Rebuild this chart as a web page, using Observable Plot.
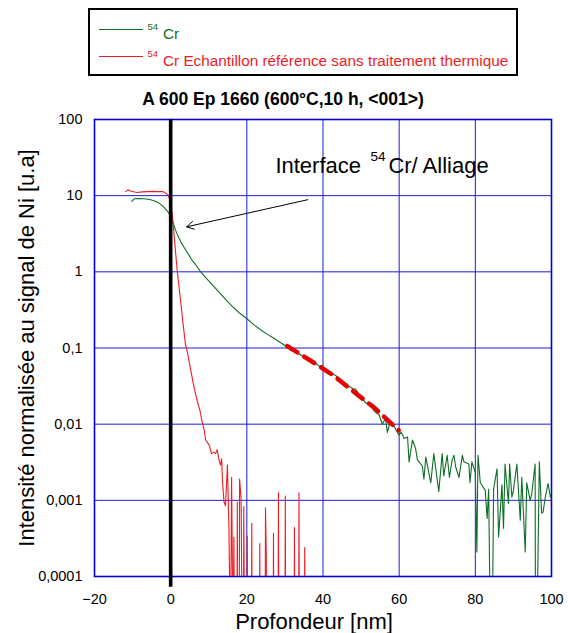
<!DOCTYPE html>
<html><head><meta charset="utf-8">
<script src="https://cdn.jsdelivr.net/npm/d3@7"></script>
<script src="https://cdn.jsdelivr.net/npm/@observablehq/plot@0.6"></script>
<style>
html,body{margin:0;padding:0;background:#fff;overflow:hidden;}
body{font-family:"Liberation Sans",Arial,sans-serif;}
#head{position:relative;width:572px;height:110px;}
#head .a{position:absolute;line-height:1;white-space:nowrap;}
#chart svg{display:block;}
</style></head><body>
<div id="head"></div>
<div id="chart"></div>
<script>
// ---------- data ----------
const isotope = "54";
const seriesNames = ["Cr", "Cr Echantillon référence sans traitement thermique"];
const seriesColors = ["#0d6e26", "#ee1c24"];
const chartTitle = "A 600 Ep 1660 (600°C,10 h, <001>)";
const xLabel = "Profondeur [nm]";
const yLabel = "Intensité normalisée au signal de Ni [u.a]";
const xTicks = [-20, 0, 20, 40, 60, 80, 100];
const yTicks = [0.0001, 0.001, 0.01, 0.1, 1, 10, 100];
const yTickLabels = ["0,0001", "0,001", "0,01", "0,1", "1", "10", "100"];

// 54Cr (annealed) profile
const greenDepth = [-10.2,-9.6,-8.5,-7,-5.5,-4.4,-3.2,-2.2,-1.4,-0.9,-0.3,0,0.6,1.3,2,2.8,3.5,4.5,5.5,6.5,7.9,9,10,11.5,13,14.9,16.5,18,20.1,22,23.5,25.4,27,28.5,30,31.5,33,34.5,36,36.7,38,39.2,39.8,40.4,41.5,42.5,43.2,44,45,46,47,48,48.6,49.5,50.5,51.2,52.2,53,54,54.7,55.6,56.4,56.9,57.7,58.6,59.9,60.5,60.9,61.3,62.2,62.6,63.5,64.3,64.8,66.1,66.5,67,68.3,69.1,70.4,71.3,71.7,72.6,73.2,73.9,74.4,74.8,75.7,76.6,77,78.3,78.6,79.1,80,80.4,80.7,81.3,82.6,83.1,83.5,84,84.4,84.8,85.7,86.1,87,87.4,87.8,88.7,89,89.6,90,90.9,91.8,92.2,93.1,93.5,94.4,94.8,95.7,95.8,96.1,96.8,97.4,97.8,98.3,99.1,99.7,100];
const greenValue = [8.4,9.1,9.2,9.1,8.9,8.6,8.1,7.4,6.7,6.3,5.7,5.4,4.5,3.5,2.9,2.4,2.1,1.75,1.45,1.25,1.0,0.86,0.76,0.63,0.52,0.41,0.34,0.29,0.24,0.2,0.175,0.151,0.135,0.121,0.108,0.098,0.088,0.079,0.071,0.068,0.063,0.057,0.059,0.054,0.05,0.046,0.044,0.041,0.037,0.034,0.031,0.029,0.029,0.024,0.021,0.019,0.018,0.016,0.014,0.0134,0.0099,0.0121,0.0078,0.011,0.0095,0.0072,0.0078,0.0072,0.0065,0.0068,0.0032,0.0062,0.0048,0.0034,0.0028,0.0019,0.0037,0.0017,0.0041,0.0013,0.0041,0.0021,0.0039,0.002,0.0034,0.0039,0.0028,0.002,0.0039,0.0032,0.003,0.0017,0.0032,0.0023,0.00021,0.0039,0.0017,0.00135,0.00058,0.0014,0.00001,0.00001,0.0014,0.0026,0.00033,0.0016,0.00043,0.003,0.00091,0.003,0.0011,0.00135,0.003,0.00055,0.002,0.00021,0.0017,0.001,0.0012,0.003,0.00001,0.00001,0.0032,0.00068,0.0007,0.00105,0.00166,0.0011,0.0012];

// 54Cr reference sample (no heat treatment)
const redDepth = [-11.8,-11.2,-10.5,-9.5,-8.7,-7.5,-6.1,-4.5,-3.5,-2,-1.3,-0.6,-0.3,0.4,0.9,1.75,2.6,3.2,3.9,4.4,5.25,6.1,7,7.7,8.3,8.75,9.2,9.8,10.2,10.7,11.3,11.8,12.2,12.7,13.1,13.4,13.6,14,14.4,14.9,15.3,15.7,16,16.4,16.6,16.8,17.4,17.5,17.6,18,18.1,18.5,18.8,19.1,19.2,19.4,20,20.1,20.3,21.2,21.3,21.4,23.3,23.4,23.5,24.8,24.9,25.1,25.2,26.9,27,27.1,28.2,28.3,28.4,30,30.1,30.2,32.4,32.5,32.6,33.6,33.7,33.8,35.1,35.2,35.3];
const redValue = [11.3,11.9,11.5,11.2,11.0,11.2,11.3,11.4,11.3,11.3,10.8,10.0,9.0,5.8,3.0,1.0,0.42,0.22,0.11,0.088,0.052,0.031,0.020,0.015,0.0105,0.0087,0.0062,0.0056,0.0052,0.0041,0.0043,0.0041,0.0046,0.0034,0.0029,0.0035,0.0018,0.00096,0.00085,0.0029,0.00043,0.00001,0.002,0.00001,0.00033,0.00001,0.00001,0.00095,0.00001,0.00001,0.0019,0.00105,0.00001,0.00001,0.00083,0.00001,0.00001,0.00034,0.00001,0.00001,0.0005,0.00001,0.00001,0.00027,0.00001,0.00001,0.0008,0.0002,0.00001,0.00001,0.00037,0.00001,0.00001,0.00126,0.00001,0.00001,0.00114,0.00001,0.00001,0.00044,0.00001,0.00001,0.00126,0.00001,0.00001,0.00024,0.00001];

// exponential fit over the diffusion tail (thick red dashes)
const fitDepth = [30.6, 37.6, 42.9, 48.1, 53.5, 59.9];
const fitValue = [0.106, 0.064, 0.043, 0.0266, 0.0164, 0.0083];

// interface marker at depth 0
const interfaceDepth = [0];
const interfaceTop = [100];
const interfaceBottom = [0.000072];

// annotation
const annotationText = ["Interface", "54", "Cr/ Alliage"];
const annotationAt = [27.5, 19.9];
const arrowFrom = [36, 8.85];
const arrowTo = [4.2, 3.9];

// ---------- header (legend + title) ----------
const head = document.getElementById("head");
function add(html, style, cls) {
  const el = document.createElement(cls === "box" ? "div" : "span");
  if (cls !== "box") el.className = "a";
  el.setAttribute("style", style);
  el.textContent = html;
  head.appendChild(el);
  return el;
}
add("", "position:absolute;left:88px;top:8px;width:430px;height:68px;border:2.6px solid #000;box-sizing:border-box", "box");
const rowLine = [28.8, 55.5];
const rowSup = [22, 49.3];
const rowText = [25.5, 52.8];
seriesNames.forEach((name, i) => {
  add("", `position:absolute;left:99px;top:${rowLine[i]}px;width:44px;height:1.2px;background:${seriesColors[i]}`, "box");
  add(isotope, `left:147.5px;top:${rowSup[i]}px;font-size:9.5px;color:${seriesColors[i]}`);
  add(name, `left:163px;top:${rowText[i]}px;font-size:15.3px;color:${seriesColors[i]}`);
});
add(chartTitle, "left:0;width:566px;text-align:center;top:91.2px;font-size:17.5px;font-weight:bold;color:#000");

// ---------- chart ----------
const green = greenDepth.map((d, i) => ({depth: d, value: greenValue[i]}));
const red = redDepth.map((d, i) => ({depth: d, value: redValue[i]}));
const fit = fitDepth.map((d, i) => ({depth: d, value: fitValue[i]}));
const iface = interfaceDepth.map((d, i) => ({depth: d, top: interfaceTop[i], bottom: interfaceBottom[i]}));
const anno = [{x: annotationAt[0], y: annotationAt[1]}];
const arrow = [{x1: arrowFrom[0], y1: arrowFrom[1], x2: arrowTo[0], y2: arrowTo[1]}];
const fmtY = d => yTickLabels[yTicks.findIndex(t => Math.abs(Math.log10(t) - Math.log10(d)) < 1e-6)];

const blue = "#1a1ae0";
const plot = Plot.plot({
  width: 572, height: 523,
  marginTop: 9, marginBottom: 57, marginLeft: 94, marginRight: 21,
  style: {fontFamily: "'Liberation Sans', Arial, sans-serif", fontSize: "14.5px", color: "#000", background: "#fff", overflow: "visible"},
  x: {domain: [-20, 100]},
  y: {type: "log", domain: [1e-4, 100]},
  marks: [
    Plot.gridX(xTicks, {stroke: blue, strokeOpacity: 1, strokeWidth: 1}),
    Plot.gridY(yTicks, {stroke: blue, strokeOpacity: 1, strokeWidth: 1}),
    Plot.frame({stroke: "#0000d8", strokeWidth: 1.6}),
    Plot.line(green, {x: "depth", y: "value", stroke: seriesColors[0], strokeWidth: 1.1, clip: true}),
    Plot.line(red, {x: "depth", y: "value", stroke: seriesColors[1], strokeWidth: 1.1, clip: true}),
    Plot.line(fit, {x: "depth", y: "value", stroke: "#e60000", strokeWidth: 4.5, strokeDasharray: "12,8", clip: true}),
    Plot.ruleX(iface, {x: "depth", y1: "top", y2: "bottom", stroke: "#000", strokeWidth: 3.6}),
    Plot.arrow(arrow, {x1: "x1", y1: "y1", x2: "x2", y2: "y2", stroke: "#000", strokeWidth: 1, headLength: 12}),
    Plot.text(anno, {x: "x", y: "y", text: () => annotationText[0], textAnchor: "start", lineAnchor: "bottom", fontSize: 22, fill: "#000"}),
    Plot.text(anno, {x: "x", y: "y", text: () => annotationText[1], textAnchor: "start", lineAnchor: "bottom", fontSize: 13.5, dx: 95, dy: -12, fill: "#000"}),
    Plot.text(anno, {x: "x", y: "y", text: () => annotationText[2], textAnchor: "start", lineAnchor: "bottom", fontSize: 22, dx: 113, fill: "#000"}),
    Plot.axisX({ticks: xTicks, tickSize: 0, tickPadding: 17, label: null}),
    Plot.axisY({ticks: yTicks, tickSize: 0, tickPadding: 12, tickFormat: fmtY, label: null}),
    Plot.text([xLabel], {frameAnchor: "bottom", textAnchor: "middle", lineAnchor: "bottom", dx: -9, dy: 52.3, fontSize: 22, fill: "#000"}),
    Plot.text([yLabel], {frameAnchor: "left", textAnchor: "middle", rotate: -90, lineAnchor: "bottom", dx: -61, fontSize: 22, fill: "#000"})
  ]
});
document.getElementById("chart").appendChild(plot);
</script>
</body></html>
